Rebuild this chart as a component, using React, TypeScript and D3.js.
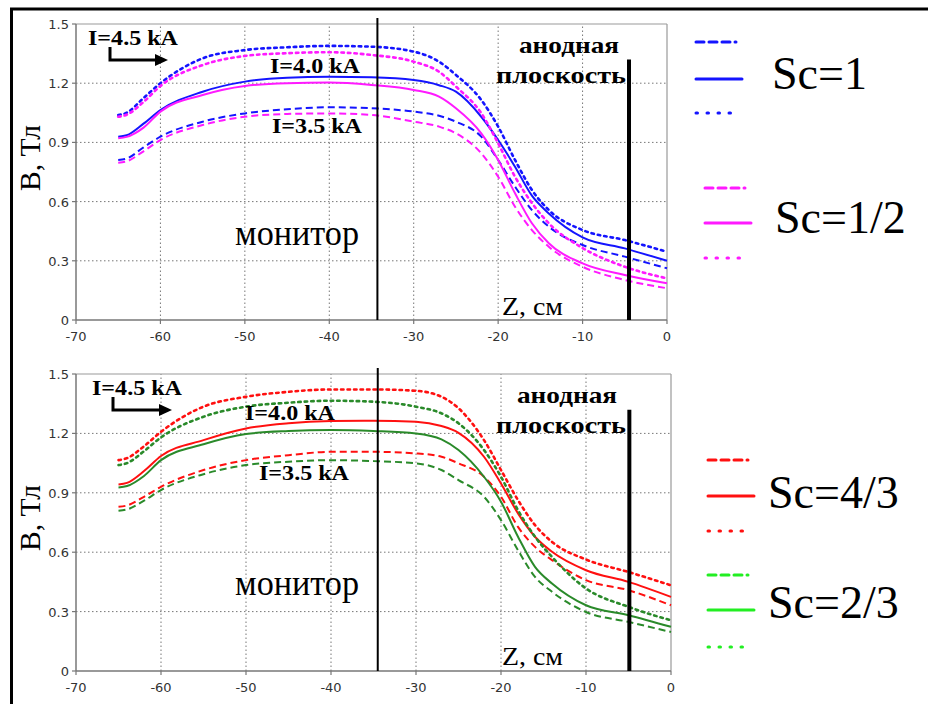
import React from "react";
import * as d3 from "d3";

// ---------- data ----------
const zValues = [-65, -64, -62, -60, -55, -50, -45, -40, -35, -30, -27, -25, -22, -20, -18, -16, -14, -10, -5, 0];

// top panel: Sc=1 (blue) and Sc=1/2 (magenta)
const sc1_35 = [0.811, 0.818, 0.875, 0.929, 1.005, 1.047, 1.068, 1.078, 1.073, 1.056, 1.035, 1.005, 0.929, 0.811, 0.676, 0.557, 0.473, 0.38, 0.321, 0.262];
const sc1_40 = [0.929, 0.936, 0.995, 1.064, 1.157, 1.208, 1.228, 1.233, 1.23, 1.216, 1.19, 1.157, 1.03, 0.912, 0.777, 0.63, 0.54, 0.419, 0.363, 0.3];
const sc1_45 = [1.039, 1.05, 1.125, 1.2, 1.326, 1.368, 1.382, 1.389, 1.385, 1.36, 1.309, 1.242, 1.115, 0.98, 0.811, 0.659, 0.557, 0.456, 0.405, 0.346];
const sc12_35 = [0.797, 0.804, 0.855, 0.912, 0.988, 1.03, 1.044, 1.047, 1.039, 1.005, 0.98, 0.946, 0.845, 0.726, 0.574, 0.456, 0.371, 0.27, 0.203, 0.161];
const sc12_40 = [0.921, 0.928, 0.975, 1.056, 1.14, 1.186, 1.2, 1.203, 1.191, 1.166, 1.132, 1.073, 0.946, 0.811, 0.642, 0.49, 0.389, 0.287, 0.228, 0.186];
const sc12_45 = [1.03, 1.04, 1.105, 1.186, 1.292, 1.338, 1.352, 1.357, 1.343, 1.309, 1.258, 1.183, 1.048, 0.895, 0.726, 0.593, 0.49, 0.365, 0.27, 0.211];

// bottom panel: Sc=4/3 (red) and Sc=2/3 (green)
const sc43_35 = [0.829, 0.836, 0.88, 0.93, 1.015, 1.065, 1.09, 1.107, 1.107, 1.099, 1.082, 1.049, 0.981, 0.88, 0.728, 0.627, 0.56, 0.459, 0.408, 0.332];
const sc43_40 = [0.942, 0.95, 1.01, 1.086, 1.166, 1.225, 1.251, 1.262, 1.264, 1.259, 1.237, 1.203, 1.082, 0.947, 0.796, 0.678, 0.602, 0.509, 0.45, 0.374];
const sc43_45 = [1.065, 1.075, 1.135, 1.208, 1.335, 1.385, 1.41, 1.422, 1.422, 1.415, 1.385, 1.327, 1.166, 1.015, 0.863, 0.737, 0.652, 0.563, 0.5, 0.433];
const sc23_35 = [0.809, 0.816, 0.86, 0.914, 0.994, 1.04, 1.057, 1.065, 1.06, 1.049, 1.015, 0.964, 0.88, 0.762, 0.61, 0.475, 0.4, 0.298, 0.248, 0.197];
const sc23_40 = [0.927, 0.934, 0.985, 1.065, 1.145, 1.197, 1.212, 1.217, 1.212, 1.2, 1.17, 1.116, 0.981, 0.855, 0.678, 0.526, 0.442, 0.332, 0.282, 0.223];
const sc23_45 = [1.04, 1.05, 1.11, 1.18, 1.284, 1.335, 1.355, 1.365, 1.36, 1.335, 1.301, 1.251, 1.116, 0.981, 0.812, 0.678, 0.576, 0.417, 0.324, 0.256];

const xTicks = [-70, -60, -50, -40, -30, -20, -10, 0];
const yTicks = [0, 0.3, 0.6, 0.9, 1.2, 1.5];
const currentLabels = ["I=4.5 kA", "I=4.0 kA", "I=3.5 kA"];
const monitorZ = [-34.3, -34.5];
const anodeZ = [-4.5, -4.9];

const DASHED = "7,4";
const DOTTED = "2.5,4";
const SERIF = "'Liberation Serif', 'Times New Roman', serif";
const SANS = "'DejaVu Sans', Verdana, sans-serif";

type Series = { values: number[]; color: string; dash: string | null };

function Panel({ x0, x1, yTop, yBottom, series, monitor, anode, labels }: any) {
  const x = d3.scaleLinear().domain([-70, 0]).range([x0, x1]);
  const y = d3.scaleLinear().domain([0, 1.5]).range([yBottom, yTop]);
  const line = d3
    .line<number>()
    .x((_, i) => x(zValues[i]))
    .y((d) => y(d))
    .curve(d3.curveMonotoneX);
  return (
    <g>
      {xTicks.slice(1, -1).map((t) => (
        <line key={"gx" + t} x1={x(t)} x2={x(t)} y1={y(0)} y2={y(1.5)} stroke="#777" strokeWidth={1} strokeDasharray="1.5,2.5" />
      ))}
      {yTicks.slice(1, -1).map((t) => (
        <line key={"gy" + t} x1={x(-70)} x2={x(0)} y1={y(t)} y2={y(t)} stroke="#777" strokeWidth={1} strokeDasharray="1.5,2.5" />
      ))}
      <line x1={x(-70)} x2={x(0)} y1={y(1.5)} y2={y(1.5)} stroke="#999" strokeWidth={1.2} />
      <line x1={x(0)} x2={x(0)} y1={y(1.5)} y2={y(0)} stroke="#999" strokeWidth={1.2} />
      <line x1={x(-70)} x2={x(-70)} y1={y(1.5)} y2={y(0)} stroke="#777" strokeWidth={1.5} />
      <line x1={x(-70)} x2={x(0)} y1={y(0)} y2={y(0)} stroke="#777" strokeWidth={1.5} />
      {xTicks.map((t) => (
        <g key={"tx" + t}>
          <line x1={x(t)} x2={x(t)} y1={y(0)} y2={y(0) + 4} stroke="#777" strokeWidth={1.2} />
          <text x={x(t)} y={y(0) + 21} textAnchor="middle" fontFamily={SANS} fontSize={13} fill="#333">
            {t}
          </text>
        </g>
      ))}
      {yTicks.map((t) => (
        <g key={"ty" + t}>
          <line x1={x(-70) - 4} x2={x(-70)} y1={y(t)} y2={y(t)} stroke="#777" strokeWidth={1.2} />
          <text x={x(-70) - 7} y={y(t) + 5} textAnchor="end" fontFamily={SANS} fontSize={13} fill="#333">
            {String(t)}
          </text>
        </g>
      ))}
      {series.map((s: Series, i: number) => (
        <path
          key={i}
          d={line(s.values) || ""}
          fill="none"
          stroke={s.color}
          strokeWidth={s.dash === DOTTED ? 2.6 : 2}
          strokeDasharray={s.dash || undefined}
          strokeLinecap={s.dash === DOTTED ? "round" : "butt"}
        />
      ))}
      <line x1={x(monitor)} x2={x(monitor)} y1={y(1.5) - 6} y2={y(0)} stroke="#000" strokeWidth={2} />
      <line x1={x(anode)} x2={x(anode)} y1={y(1.32)} y2={y(0)} stroke="#000" strokeWidth={4} />
      <text x={labels.l45[0]} y={labels.l45[1]} fontFamily={SERIF} fontWeight="bold" fontSize={20} textLength={90} lengthAdjust="spacingAndGlyphs">
        {currentLabels[0]}
      </text>
      <path d={labels.arrow} fill="none" stroke="#000" strokeWidth={3} />
      <path d={labels.head} fill="#000" />
      <text x={labels.l40[0]} y={labels.l40[1]} fontFamily={SERIF} fontWeight="bold" fontSize={20} textLength={90} lengthAdjust="spacingAndGlyphs">
        {currentLabels[1]}
      </text>
      <text x={labels.l35[0]} y={labels.l35[1]} fontFamily={SERIF} fontWeight="bold" fontSize={20} textLength={90} lengthAdjust="spacingAndGlyphs">
        {currentLabels[2]}
      </text>
      <text x={labels.an[0]} y={labels.an[1]} fontFamily={SERIF} fontWeight="bold" fontSize={23} textLength={100} lengthAdjust="spacingAndGlyphs">
        анодная
      </text>
      <text x={labels.pl[0]} y={labels.pl[1]} fontFamily={SERIF} fontWeight="bold" fontSize={23} textLength={130} lengthAdjust="spacingAndGlyphs">
        плоскость
      </text>
      <text x={235} y={labels.mon} fontFamily={SERIF} fontSize={35} textLength={124} lengthAdjust="spacingAndGlyphs">
        монитор
      </text>
      <text x={502} y={labels.z} fontFamily={SERIF} fontSize={25} textLength={61} lengthAdjust="spacingAndGlyphs">
        Z, см
      </text>
      <text
        transform={`translate(40,${labels.b}) rotate(-90)`}
        textAnchor="middle"
        fontFamily={SERIF}
        fontSize={30}
        textLength={66}
        lengthAdjust="spacingAndGlyphs"
      >
        B, Тл
      </text>
    </g>
  );
}

function LegendGroup({ x, yDash, ySolid, yDot, color, label, tx, ty, w }: any) {
  return (
    <g>
      <line x1={x} x2={x + 40} y1={yDash} y2={yDash} stroke={color} strokeWidth={3} strokeDasharray="8,5" strokeLinecap="round" />
      <line x1={x} x2={x + w} y1={ySolid} y2={ySolid} stroke={color} strokeWidth={3} strokeLinecap="round" />
      <line x1={x} x2={x + 44} y1={yDot} y2={yDot} stroke={color} strokeWidth={3} strokeDasharray="1.5,9.5" strokeLinecap="round" />
      <text x={tx} y={ty} fontFamily={SERIF} fontSize={46}>
        {label}
      </text>
    </g>
  );
}

export default function App() {
  const BLUE = "#1414ff";
  const MAG = "#ff1aff";
  const RED = "#ff1010";
  const DGREEN = "#2a8a2a";
  const LGREEN = "#22ee22";
  const topSeries: Series[] = [
    { values: sc1_35, color: BLUE, dash: DASHED },
    { values: sc1_40, color: BLUE, dash: null },
    { values: sc1_45, color: BLUE, dash: DOTTED },
    { values: sc12_35, color: MAG, dash: DASHED },
    { values: sc12_40, color: MAG, dash: null },
    { values: sc12_45, color: MAG, dash: DOTTED },
  ];
  const bottomSeries: Series[] = [
    { values: sc43_35, color: RED, dash: DASHED },
    { values: sc43_40, color: RED, dash: null },
    { values: sc43_45, color: RED, dash: DOTTED },
    { values: sc23_35, color: DGREEN, dash: DASHED },
    { values: sc23_40, color: DGREEN, dash: null },
    { values: sc23_45, color: DGREEN, dash: DOTTED },
  ];
  return (
    <svg width={928} height={704} style={{ position: "absolute", left: 0, top: 0, background: "#fff" }}>
      <rect x={0} y={0} width={928} height={704} fill="#fff" />
      <line x1={10} x2={928} y1={9} y2={9} stroke="#000" strokeWidth={3} />
      <line x1={11.5} x2={11.5} y1={8} y2={704} stroke="#000" strokeWidth={3} />
      <Panel
        x0={76}
        x1={667}
        yTop={24}
        yBottom={320}
        series={topSeries}
        monitor={monitorZ[0]}
        anode={anodeZ[0]}
        labels={{
          l45: [88, 45],
          l40: [270, 73],
          l35: [272, 133],
          an: [519, 53],
          pl: [496, 83],
          mon: 245,
          z: 315,
          b: 158,
          arrow: "M110,47 L110,60 L156,60",
          head: "M155,54 L168,60 L155,66 Z",
        }}
      />
      <Panel
        x0={76}
        x1={671}
        yTop={374}
        yBottom={671}
        series={bottomSeries}
        monitor={monitorZ[1]}
        anode={anodeZ[1]}
        labels={{
          l45: [92, 395],
          l40: [245, 420],
          l35: [259, 480],
          an: [517, 403],
          pl: [496, 433],
          mon: 595,
          z: 665,
          b: 518,
          arrow: "M113,397 L113,410 L160,410",
          head: "M159,404 L172,410 L159,416 Z",
        }}
      />
      <LegendGroup x={696} yDash={42} ySolid={79} yDot={113} color={BLUE} label="Sc=1" tx={772} ty={89} w={46} />
      <LegendGroup x={705} yDash={188} ySolid={223} yDot={258} color={MAG} label="Sc=1/2" tx={775} ty={233} w={46} />
      <LegendGroup x={708} yDash={460} ySolid={496} yDot={531} color={RED} label="Sc=4/3" tx={768} ty={508} w={46} />
      <LegendGroup x={708} yDash={575} ySolid={610} yDot={647} color={LGREEN} label="Sc=2/3" tx={768} ty={618} w={46} />
    </svg>
  );
}
